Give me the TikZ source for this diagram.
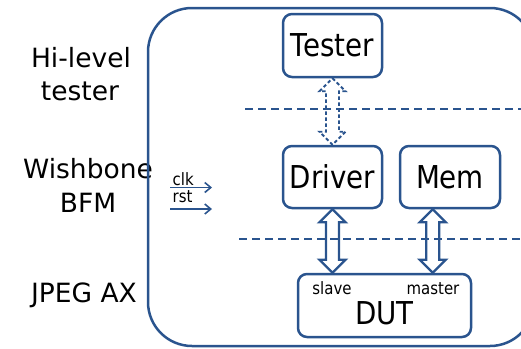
\documentclass[tikz,border=0pt]{standalone}
\usepackage{fontspec}
\setmainfont{DejaVu Sans}
\newfontfamily\narrowfont{DejaVu Sans}[FakeStretch=0.88]
\usetikzlibrary{calc,arrows.meta}

\definecolor{frameblue}{RGB}{42,84,142}

\tikzset{
  bigtext/.style={font=\narrowfont\fontsize{31.5}{36}\selectfont},
  block/.style={draw=frameblue, line width=2.5pt, rounded corners=9pt,
    inner sep=0pt, bigtext},
  blocklabel/.style={anchor=base, inner sep=0pt, bigtext},
  sidelabel/.style={anchor=base, inner sep=0pt, font=\fontsize{26.5}{32}\selectfont},
  portlabel/.style={anchor=base, inner sep=0pt, font=\narrowfont\fontsize{17}{20}\selectfont},
  layerline/.style={draw=frameblue, line width=2.2pt, dash pattern=on 8pt off 5pt},
  busarrow/.style={draw=frameblue, line width=2.4pt, line join=miter},
  dashbusarrow/.style={draw=frameblue, line width=1.9pt, dash pattern=on 3.5pt off 2.5pt},
  sigarrow/.style={draw=frameblue, line width=1.9pt,
    -{Straight Barb[length=6pt,width=10pt,line width=1.6pt]}}
}

% double-headed block arrow between two points (top, bottom)
\newcommand\blockarrow[3]{%
  \draw[#1] (#2) -- ++(13,13) -- ++(-6.5,0) -- ($(#3)+(6.5,-13)$) -- ++(6.5,0)
    -- (#3) -- ++(-13,-13) -- ++(6.5,0) -- ($(#2)+(-6.5,13)$) -- ++(-6.5,0) -- cycle;}

\begin{document}
\begin{tikzpicture}[x=1pt,y=-1pt]
\useasboundingbox (0,0) rectangle (521,348);
\clip (0,0) rectangle (521,348);

% layer names
\node[sidelabel] (hl1) at (81,67) {Hi-level};
\node[sidelabel] (hl2) at (80,100) {tester};
\node[sidelabel] (wb1) at (88,178) {Wishbone};
\node[sidelabel] (wb2) at (88,212) {BFM};
\node[sidelabel] (jp) at (84,302) {JPEG AX};

% testbench frame
\draw[frameblue, line width=2.5pt, rounded corners=44pt] (148,8) rectangle (534,346);

% layer separators
\coordinate (sepAl) at (245,109);
\coordinate (sepAr) at (521,109);
\coordinate (sepBl) at (239,239);
\coordinate (sepBr) at (521,239);
\draw[layerline] (sepAl) -- (sepAr);
\draw[layerline] (sepBl) -- (sepBr);

% blocks
\node[block, minimum width=99pt, minimum height=63pt] (tester) at (332.5,45.5) {Tester};
\node[block, minimum width=99pt, minimum height=62pt] (driver) at (332.5,177) {Driver};
\node[block, minimum width=100pt, minimum height=62pt] (mem) at (450,177) {Mem};
\node[block, minimum width=173pt, minimum height=63pt] (dut) at (384.5,305.5) {};
\node[blocklabel] (dutlabel) at (384.5,324) {DUT};
\node[portlabel] (slave) at (332,294) {slave};
\node[portlabel] (master) at (433,294) {master};

% buses
\coordinate (memport) at ($(mem.south west)+(34,0)$);
\coordinate (dutmaster) at (memport |- dut.north);
\blockarrow{dashbusarrow}{tester.south}{driver.north}
\blockarrow{busarrow}{driver.south}{driver.south |- dut.north}
\blockarrow{busarrow}{memport}{dutmaster}

% clock and reset inputs
\node[portlabel, anchor=base west] (clk) at (172.5,185.5) {clk};
\node[portlabel, anchor=base west] (rst) at (172.5,202.5) {rst};
\coordinate (clkin) at (170,187.5);
\coordinate (clkout) at (212,187.5);
\coordinate (rstin) at (170,209);
\coordinate (rstout) at (212,209);
\draw[sigarrow] (clkin) -- (clkout);
\draw[sigarrow] (rstin) -- (rstout);
\end{tikzpicture}
\end{document}
